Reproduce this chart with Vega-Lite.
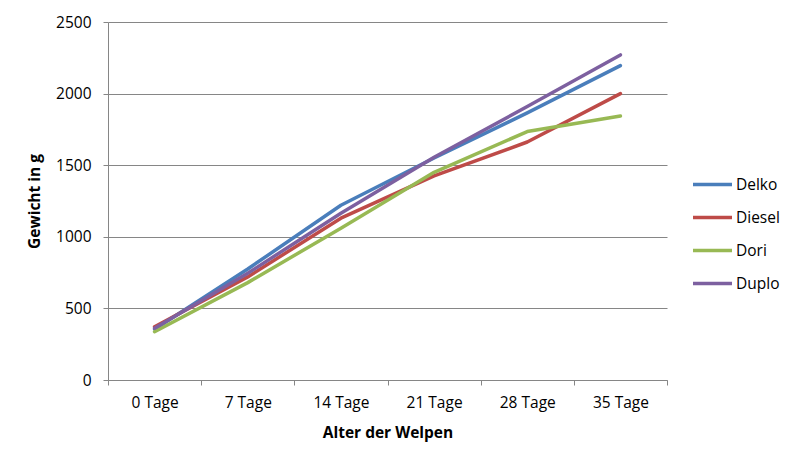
{
  "$schema": "https://vega.github.io/schema/vega-lite/v6.json",
  "width": 559,
  "height": 358,
  "autosize": {"type": "none"},
  "padding": {"left": 108, "top": 22, "right": 133, "bottom": 88},
  "background": "white",
  "data": {"values": [
    {"tag": "0 Tage", "hund": "Delko", "g": 355},
    {"tag": "7 Tage", "hund": "Delko", "g": 775},
    {"tag": "14 Tage", "hund": "Delko", "g": 1220},
    {"tag": "21 Tage", "hund": "Delko", "g": 1550},
    {"tag": "28 Tage", "hund": "Delko", "g": 1865},
    {"tag": "35 Tage", "hund": "Delko", "g": 2195},
    {"tag": "0 Tage", "hund": "Diesel", "g": 372},
    {"tag": "7 Tage", "hund": "Diesel", "g": 720},
    {"tag": "14 Tage", "hund": "Diesel", "g": 1130},
    {"tag": "21 Tage", "hund": "Diesel", "g": 1425},
    {"tag": "28 Tage", "hund": "Diesel", "g": 1662},
    {"tag": "35 Tage", "hund": "Diesel", "g": 2000},
    {"tag": "0 Tage", "hund": "Dori", "g": 337},
    {"tag": "7 Tage", "hund": "Dori", "g": 680},
    {"tag": "14 Tage", "hund": "Dori", "g": 1060},
    {"tag": "21 Tage", "hund": "Dori", "g": 1450},
    {"tag": "28 Tage", "hund": "Dori", "g": 1735},
    {"tag": "35 Tage", "hund": "Dori", "g": 1843},
    {"tag": "0 Tage", "hund": "Duplo", "g": 362},
    {"tag": "7 Tage", "hund": "Duplo", "g": 745},
    {"tag": "14 Tage", "hund": "Duplo", "g": 1165},
    {"tag": "21 Tage", "hund": "Duplo", "g": 1555},
    {"tag": "28 Tage", "hund": "Duplo", "g": 1910},
    {"tag": "35 Tage", "hund": "Duplo", "g": 2270}
  ]},
  "mark": {"type": "line", "strokeWidth": 3.5, "strokeCap": "round", "strokeJoin": "round"},
  "encoding": {
    "x": {
      "field": "tag", "type": "ordinal", "sort": null,
      "scale": {"type": "band", "paddingInner": 0, "paddingOuter": 0},
      "axis": {
        "title": "Alter der Welpen", "labelAngle": 0, "tickBand": "extent",
        "titleFontWeight": "bold", "titleFontSize": 15.5, "titlePadding": 15,
        "labelFontSize": 15.5, "labelPadding": 10, "labelColor": "#000", "titleColor": "#000",
        "domainColor": "#868686", "tickColor": "#868686", "tickSize": 5, "grid": false
      }
    },
    "y": {
      "field": "g", "type": "quantitative",
      "scale": {"domain": [0, 2500], "nice": false},
      "axis": {
        "title": "Gewicht in g", "values": [0, 500, 1000, 1500, 2000, 2500], "format": "d",
        "titleFontWeight": "bold", "titleFontSize": 15.5, "titlePadding": 13,
        "labelFontSize": 15.5, "labelPadding": 12, "labelColor": "#000", "titleColor": "#000",
        "domainColor": "#868686", "tickColor": "#868686", "tickSize": 5,
        "grid": true, "gridColor": "#868686", "gridOpacity": 1
      }
    },
    "color": {
      "field": "hund", "type": "nominal",
      "scale": {"domain": ["Delko", "Diesel", "Dori", "Duplo"], "range": ["#4A7EBB", "#BE4B48", "#98B954", "#7D60A0"]},
      "legend": {
        "title": null, "orient": "none", "legendX": 583, "legendY": 141,
        "symbolType": "stroke", "symbolSize": 1521, "symbolStrokeWidth": 3.5,
        "labelFontSize": 15.5, "labelColor": "#000", "labelOffset": 2, "rowPadding": 3
      }
    }
  },
  "config": {
    "font": "Open Sans",
    "view": {"stroke": null}
  }
}
